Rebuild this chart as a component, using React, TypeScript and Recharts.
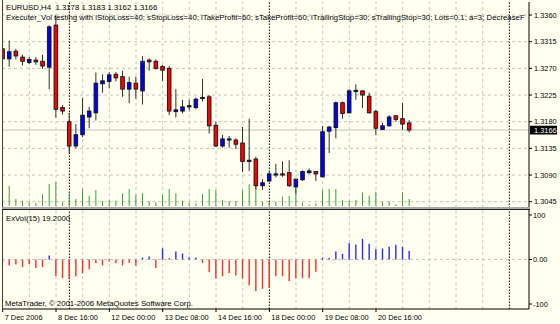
import React from 'react';
import { ComposedChart, Bar, XAxis, YAxis, ReferenceLine, Cell } from 'recharts';

const openPrices = [1.3303,1.3286,1.3299,1.3289,1.3280,1.3284,1.3282,1.3272,1.3343,1.3204,1.3180,1.3139,1.3158,1.3188,1.3195,1.3244,1.3248,1.3260,1.3256,1.3235,1.3245,1.3232,1.3284,1.3282,1.3273,1.3270,1.3197,1.3198,1.3205,1.3204,1.3219,1.3222,1.3174,1.3139,1.3149,1.3149,1.3144,1.3113,1.3117,1.3072,1.3080,1.3090,1.3092,1.3094,1.3070,1.3082,1.3094,1.3096,1.3087,1.3164,1.3170,1.3212,1.3195,1.3231,1.3232,1.3223,1.3197,1.3167,1.3173,1.3190,1.3185,1.3178];
const highPrices = [1.3323,1.3317,1.3303,1.3293,1.3289,1.3289,1.3293,1.3343,1.3359,1.3208,1.3195,1.3176,1.3220,1.3205,1.3263,1.3260,1.3264,1.3264,1.3266,1.3256,1.3256,1.3291,1.3287,1.3285,1.3276,1.3274,1.3235,1.3217,1.3217,1.3221,1.3252,1.3225,1.3180,1.3158,1.3156,1.3152,1.3171,1.3185,1.3121,1.3083,1.3096,1.3109,1.3113,1.3115,1.3084,1.3098,1.3101,1.3097,1.3173,1.3173,1.3214,1.3214,1.3235,1.3243,1.3233,1.3229,1.3200,1.3178,1.3191,1.3191,1.3212,1.3183];
const lowPrices = [1.3281,1.3273,1.3285,1.3275,1.3277,1.3276,1.3269,1.3235,1.3187,1.3192,1.3127,1.3135,1.3154,1.3169,1.3182,1.3229,1.3236,1.3248,1.3222,1.3211,1.3219,1.3209,1.3266,1.3268,1.3249,1.3191,1.3187,1.3194,1.3199,1.3201,1.3214,1.3160,1.3138,1.3136,1.3136,1.3134,1.3095,1.3097,1.3066,1.3065,1.3078,1.3086,1.3087,1.3070,1.3059,1.3080,1.3092,1.3080,1.3086,1.3127,1.3152,1.3185,1.3194,1.3217,1.3203,1.3194,1.3158,1.3166,1.3172,1.3180,1.3166,1.3162];
const closePrices = [1.3286,1.3298,1.3291,1.3282,1.3285,1.3281,1.3274,1.3340,1.3201,1.3198,1.3139,1.3158,1.3191,1.3198,1.3245,1.3249,1.3259,1.3254,1.3235,1.3246,1.3235,1.3282,1.3281,1.3270,1.3267,1.3198,1.3200,1.3205,1.3207,1.3218,1.3221,1.3173,1.3139,1.3151,1.3151,1.3142,1.3113,1.3115,1.3072,1.3077,1.3092,1.3092,1.3090,1.3072,1.3083,1.3096,1.3097,1.3092,1.3163,1.3171,1.3212,1.3194,1.3232,1.3233,1.3225,1.3195,1.3169,1.3173,1.3188,1.3184,1.3176,1.3166];
const volumes = [550,1000,350,265,185,165,585,1100,1215,185,635,350,850,515,800,250,300,265,635,850,550,635,215,185,550,850,635,265,185,135,600,850,800,300,250,250,800,1085,1100,215,185,215,465,500,800,165,85,135,800,850,850,300,265,300,665,515,715,215,215,85,685,350];
const exVolValues = [-7.5,-13.5,-11,-17,-10,-19,-17,9,-37,-42,-44,-38,-31,-22,-8,-13.5,-4.5,-8,-13.5,-7.5,-13.5,4.5,6.7,-19,25,3,18,13.5,5,4.5,-8,-28.5,-42.7,-37.5,-30.7,-36,-42.7,-58.4,-71,-66,-64,-37.5,-37.5,-48.7,-42,-42,-42,-27.7,4.5,3.7,18,12.7,36.7,33.7,46.4,35.2,23.2,24.7,28.5,33,28.5,19.2];

const timeLabels = ['7 Dec 2006', '8 Dec 16:00', '12 Dec 00:00', '13 Dec 08:00', '14 Dec 16:00', '18 Dec 00:00', '19 Dec 08:00', '20 Dec 16:00'];
const timeLabelIndex = [0, 8, 16, 24, 32, 40, 48, 56];
const priceTicks = [1.3045, 1.309, 1.3135, 1.318, 1.3225, 1.327, 1.3315, 1.336];
const exVolTicks = [-100, 0, 100];
const gridIndex = [0, 4, 8, 12, 16, 20, 24, 28, 32, 36, 44, 48, 52, 56, 60, 64, 68, 72];
const separatorIndex = [10, 40, 76];
const lastBid = 1.3166;
const titleText = 'EURUSD,H4  1.3178 1.3183 1.3162 1.3166';
const expertText = 'Executer_Vol testing with lStopLoss=40; sStopLoss=40; lTakeProfit=60; sTakeProfit=60; lTrailingStop=30; sTrailingStop=30; Lots=0.1; a=3; DecreaseF';
const indicatorText = 'ExVol(15) 19.2000';
const copyrightText = 'MetaTrader, © 2001-2006 MetaQuotes Software Corp.';

const FONT = '"Liberation Sans", Arial, sans-serif';
const BG = '#fffff0';
const GRID = '#c4c4c4';
const xDomain: [number, number] = [-0.105, 78.95];
const priceDomain: [number, number] = [1.30344, 1.3382];
const volDomain: [number, number] = [-100, 10200];
const evDomain: [number, number] = [-111.2, 111.2];

const topData = openPrices.map((o, i) => ({
  i,
  o,
  h: highPrices[i],
  l: lowPrices[i],
  c: closePrices[i],
  range: [lowPrices[i], highPrices[i]],
  vol: volumes[i],
}));
const botData = exVolValues.map((ev, i) => ({ i, ev }));

const CandleShape = (props: any) => {
  const { x, y, width, height, payload } = props;
  if (x == null || y == null) return null;
  const cx = x + width / 2;
  const top = Math.min(y, y + height);
  const bot = Math.max(y, y + height);
  const { o, h, l, c } = payload;
  const span = h - l;
  const yOf = (p: number) => (span === 0 ? top : top + ((h - p) / span) * (bot - top));
  const yo = yOf(o);
  const yc = yOf(c);
  const bt = Math.min(yo, yc);
  const bb = Math.max(yo, yc);
  const up = c >= o;
  return (
    <g>
      <line x1={cx} x2={cx} y1={top} y2={bot} stroke="#303030" strokeWidth={1} />
      {bb - bt < 1 ? (
        <line x1={cx - 2.3} x2={cx + 2.3} y1={(bt + bb) / 2} y2={(bt + bb) / 2} stroke="#000" strokeWidth={1.2} />
      ) : (
        <rect x={cx - 1.8} y={bt} width={3.6} height={bb - bt} fill={up ? '#0000ff' : '#ff0000'} stroke="#101010" strokeWidth={0.9} />
      )}
    </g>
  );
};

const VolShape = (props: any) => {
  const { x, y, width, height } = props;
  if (x == null || y == null) return null;
  const cx = x + width / 2;
  const top = Math.min(y, y + height);
  return <rect x={cx - 0.5} y={top} width={1} height={Math.abs(height)} fill="#3a9e3a" />;
};

const EvShape = (props: any) => {
  const { x, y, width, height, fill } = props;
  if (x == null || y == null) return null;
  const cx = x + width / 2;
  const top = Math.min(y, y + height);
  return <rect x={cx - 0.7} y={top} width={1.4} height={Math.abs(height)} fill={fill} />;
};

const PriceTag = (props: any) => {
  const vb = props.viewBox || {};
  const xr = vb.x + vb.width;
  const yy = vb.y;
  return (
    <g>
      <rect x={xr + 1} y={yy - 4.3} width={27} height={8.8} fill="#000" />
      <text x={xr + 5} y={yy} dy="0.36em" fill="#fff" fontSize={7.4} fontFamily={FONT}>
        {lastBid.toFixed(4)}
      </text>
    </g>
  );
};

const TimeTick = (props: any) => {
  const { x, y, payload } = props;
  const k = timeLabelIndex.indexOf(payload.value);
  return (
    <text x={x + 2} y={y} dy="0.71em" fontSize={7.4} fill="#000" fontFamily={FONT} textAnchor="start">
      {k >= 0 ? timeLabels[k] : ''}
    </text>
  );
};

const verticalGrid = () => [
  ...gridIndex.map((g) => <ReferenceLine key={'g' + g} x={g} stroke={GRID} strokeDasharray="3 3" />),
  ...separatorIndex.map((s) => <ReferenceLine key={'s' + s} x={s} stroke="#000" strokeDasharray="1.5 1.5" />),
];

export default function App() {
  return (
    <div style={{ position: 'absolute', left: 0, top: 0, width: 560, height: 324, background: BG, overflow: 'hidden' }}>
      {/* price pane: background layer (grid) */}
      <div style={{ position: 'absolute', left: 0, top: 0 }}>
        <ComposedChart width={560} height={209} data={topData} margin={{ top: 2, right: 31, bottom: 1, left: 2 }}>
          <XAxis dataKey="i" type="number" domain={xDomain} allowDataOverflow hide />
          <YAxis hide domain={priceDomain} allowDataOverflow />
          {priceTicks.map((p) => (
            <ReferenceLine key={'h' + p} y={p} stroke={GRID} strokeDasharray="3 3" />
          ))}
          {verticalGrid()}
          <ReferenceLine y={lastBid} stroke="#c0c0c0" label={PriceTag} />
        </ComposedChart>
      </div>
      {/* price pane: candles, volumes, axis */}
      <div style={{ position: 'absolute', left: 0, top: 0 }}>
        <ComposedChart width={560} height={209} data={topData} margin={{ top: 2, right: 2, bottom: 1, left: 2 }}>
          <XAxis xAxisId="p" dataKey="i" type="number" domain={xDomain} allowDataOverflow hide />
          <XAxis xAxisId="v" dataKey="i" type="number" domain={xDomain} allowDataOverflow hide />
          <YAxis
            yAxisId="p"
            orientation="right"
            width={29}
            domain={priceDomain}
            allowDataOverflow
            ticks={priceTicks}
            interval={0}
            tickFormatter={(v: number) => v.toFixed(4)}
            tick={{ fontSize: 7.4, fill: '#000', fontFamily: FONT }}
            tickSize={3}
            tickMargin={2}
            axisLine={{ stroke: '#000' }}
            tickLine={{ stroke: '#000' }}
          />
          <YAxis yAxisId="v" hide domain={volDomain} allowDataOverflow />
          <Bar xAxisId="v" yAxisId="v" dataKey="vol" shape={VolShape} isAnimationActive={false} />
          <Bar xAxisId="p" yAxisId="p" dataKey="range" shape={CandleShape} isAnimationActive={false} />
        </ComposedChart>
      </div>
      {/* indicator pane: background layer */}
      <div style={{ position: 'absolute', left: 0, top: 208 }}>
        <ComposedChart width={560} height={116} data={botData} margin={{ top: 2, right: 31, bottom: 15, left: 2 }}>
          <XAxis dataKey="i" type="number" domain={xDomain} allowDataOverflow hide />
          <YAxis hide domain={evDomain} allowDataOverflow />
          {verticalGrid()}
          <ReferenceLine y={0} stroke={GRID} strokeDasharray="3 3" />
        </ComposedChart>
      </div>
      {/* indicator pane: histogram and axes */}
      <div style={{ position: 'absolute', left: 0, top: 208 }}>
        <ComposedChart width={560} height={116} data={botData} margin={{ top: 2, right: 2, bottom: 1, left: 2 }}>
          <XAxis
            dataKey="i"
            type="number"
            domain={xDomain}
            allowDataOverflow
            ticks={timeLabelIndex}
            interval={0}
            tick={TimeTick}
            tickSize={3}
            tickMargin={3}
            height={14}
            axisLine={{ stroke: '#000' }}
            tickLine={{ stroke: '#000' }}
          />
          <YAxis
            orientation="right"
            width={29}
            domain={evDomain}
            allowDataOverflow
            ticks={exVolTicks}
            interval={0}
            tickFormatter={(v: number) => (v === 0 ? '0.00' : String(v))}
            tick={{ fontSize: 7.4, fill: '#000', fontFamily: FONT }}
            tickSize={3}
            tickMargin={1}
            axisLine={{ stroke: '#000' }}
            tickLine={{ stroke: '#000' }}
          />
          <Bar dataKey="ev" shape={EvShape} isAnimationActive={false}>
            {botData.map((d) => (
              <Cell key={d.i} fill={d.ev >= 0 ? '#2a2aff' : '#ff2a2a'} />
            ))}
          </Bar>
        </ComposedChart>
      </div>
      <svg width={560} height={324} style={{ position: 'absolute', left: 0, top: 0, pointerEvents: 'none' }}>
        <defs>
          <clipPath id="plotClip">
            <rect x={2} y={0} width={527} height={208} />
          </clipPath>
        </defs>
        <g shapeRendering="crispEdges">
          <line x1={2.5} x2={2.5} y1={0} y2={310} stroke="#404040" />
          <line x1={2} x2={530} y1={207.5} y2={207.5} stroke="#a8a8a8" />
          <line x1={2} x2={530} y1={208.5} y2={208.5} stroke="#a8a8a8" />
          <line x1={2} x2={530} y1={209.5} y2={209.5} stroke="#202020" />
        </g>
        <g fontFamily={FONT} fontSize={7.8} fill="#000">
          <text x={6} y={10} xmlSpace="preserve">{titleText}</text>
          <text x={6} y={19.5} clipPath="url(#plotClip)">{expertText}</text>
          <text x={6} y={220.5}>{indicatorText}</text>
          <text x={5} y={306}>{copyrightText}</text>
        </g>
      </svg>
    </div>
  );
}
